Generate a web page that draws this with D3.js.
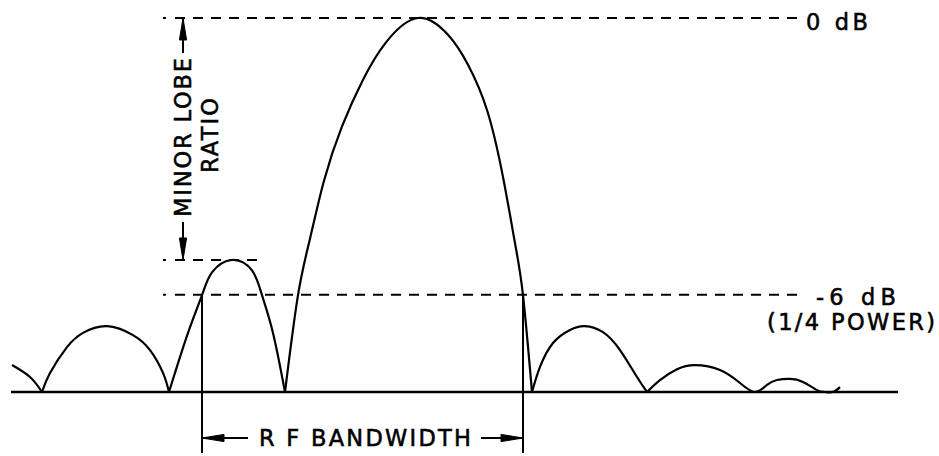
<!DOCTYPE html>
<html>
<head>
<meta charset="utf-8">
<script src="https://cdn.jsdelivr.net/npm/d3@7"></script>
<style>
  html, body { margin: 0; padding: 0; background: #fff; }
  svg { display: block; }
  text { font-family: "DejaVu Sans", sans-serif; font-size: 22.5px; fill: #000; stroke: #000; stroke-width: 0.55px; }
</style>
</head>
<body>
<svg id="chart" width="939" height="456"></svg>
<script>
// ---------- DATA (angle units, relative power) ----------
const angleDomain = [-40.7, 48];          // baseline extent
const powerDomain = [0, 1];

// lobe segments: [angle, relative power]
const tailLeft   = [[-40.6, 0.072], [-38.8, 0.040], [-37.6, 0]];
const sideLobe2L = [[-37.6, 0], [-36.8, 0.051], [-35.1, 0.120], [-33.5, 0.158], [-31.1, 0.176],
                    [-28.5, 0.152], [-26.8, 0.112], [-25.5, 0.051], [-24.9, 0]];
const sideLobe1L = [[-24.9, 0], [-23.0, 0.158], [-21.6, 0.259], [-20.6, 0.320],
                    [-18.6, 0.353], [-16.6, 0.325], [-15.6, 0.259], [-14.5, 0.158], [-13.3, 0]];
const mainLobe   = [[-13.3, 0], [-12.0, 0.259], [-10.8, 0.410], [-9.4, 0.565], [-7.6, 0.710],
                    [-5.5, 0.835], [-3.2, 0.935], [0, 1.0], [3.0, 0.955],
                    [5.0, 0.875], [6.9, 0.754], [8.5, 0.575], [9.7, 0.398], [10.5, 0.259], [11.4, 0]];
const sideLobe1R = [[11.4, 0], [12.2, 0.067], [13.5, 0.131], [15.2, 0.166], [16.7, 0.176],
                    [18.5, 0.160], [20.2, 0.112], [21.9, 0.040], [22.9, 0]];
const farLobesR  = [[22.9, 0], [24.2, 0.032], [25.9, 0.061], [27.7, 0.072], [30.2, 0.059],
                    [32.2, 0.024], [33.7, 0], [34.9, 0.019], [35.9, 0.032], [37.2, 0.035],
                    [38.5, 0.027], [39.9, 0.005], [40.7, 0], [41.5, 0], [42.2, 0.013]];

const levelValues = [1.0, 0.26];                 // 0 dB, -6 dB (1/4 power)
const levelLabels = ["0 dB", "-6 dB"];
const levelSubLabel = "(1/4 POWER)";
const minorLobeLevel = 0.353;
const bandEdges = [-21.6, 10.5];                  // -6 dB crossings
const bandLabel = "R F BANDWIDTH";
const ratioLabel = ["MINOR LOBE", "RATIO"];

// ---------- LAYOUT ----------
const svg = d3.select("#chart");
const x = d3.scaleLinear().domain(angleDomain).range([11, 898]);
const y = d3.scaleLinear().domain(powerDomain).range([392, 18]);

const line = d3.line().x(d => x(d[0])).y(d => y(d[1])).curve(d3.curveNatural);

// baseline
svg.append("line")
  .attr("x1", x(angleDomain[0])).attr("x2", x(angleDomain[1]))
  .attr("y1", y(0)).attr("y2", y(0))
  .attr("stroke", "#000").attr("stroke-width", 2.5);

// lobes
[tailLeft, sideLobe2L, sideLobe1L, mainLobe, sideLobe1R, farLobesR].forEach(seg => {
  svg.append("path").attr("d", line(seg))
    .attr("fill", "none").attr("stroke", "#000").attr("stroke-width", 2.2)
    .attr("stroke-linejoin", "round");
});

// dashed reference lines
function dashed(yv, x2) {
  svg.append("line").attr("x1", 163).attr("x2", 166).attr("y1", y(yv)).attr("y2", y(yv))
    .attr("stroke", "#000").attr("stroke-width", 2);
  svg.append("line").attr("x1", 175).attr("x2", x2).attr("y1", y(yv)).attr("y2", y(yv))
    .attr("stroke", "#000").attr("stroke-width", 2).attr("stroke-dasharray", "10,8");
}
dashed(levelValues[0], 797);
dashed(levelValues[1], 797);
dashed(minorLobeLevel, 265);

// level labels
svg.append("text").attr("x", 806).attr("y", y(levelValues[0]) + 12)
  .attr("textLength", 62).attr("lengthAdjust", "spacing").text(levelLabels[0]);
svg.append("text").attr("x", 816).attr("y", y(levelValues[1]) + 10)
  .attr("textLength", 80).attr("lengthAdjust", "spacing").text(levelLabels[1]);
svg.append("text").attr("x", 767).attr("y", y(levelValues[1]) + 35)
  .attr("textLength", 168).attr("lengthAdjust", "spacing").text(levelSubLabel);

// arrow helper
function arrowHead(tx, ty, dx, dy) {
  const L = 22, W = 3.6;
  const bx = tx - dx * L, by = ty - dy * L;
  const px = -dy * W, py = dx * W;
  svg.append("path")
    .attr("d", `M${tx},${ty}L${bx + px},${by + py}L${bx - px},${by - py}Z`)
    .attr("fill", "#000").attr("stroke", "#000").attr("stroke-width", 1);
}
function seg(x1, y1, x2, y2) {
  svg.append("line").attr("x1", x1).attr("y1", y1).attr("x2", x2).attr("y2", y2)
    .attr("stroke", "#000").attr("stroke-width", 2);
}

// minor lobe ratio dimension
const ax = 183;
seg(ax, y(levelValues[0]), ax, 53);
arrowHead(ax, y(levelValues[0]), 0, -1);
seg(ax, 222, ax, y(minorLobeLevel));
arrowHead(ax, y(minorLobeLevel), 0, 1);
svg.append("text").attr("transform", `translate(191,217) rotate(-90)`)
  .attr("textLength", 159).attr("lengthAdjust", "spacing").text(ratioLabel[0]);
svg.append("text").attr("transform", `translate(218,173) rotate(-90)`)
  .attr("textLength", 75).attr("lengthAdjust", "spacing").text(ratioLabel[1]);

// bandwidth dimension
const bx1 = x(bandEdges[0]), bx2 = x(bandEdges[1]);
seg(bx1, y(levelValues[1]), bx1, 453);
seg(bx2, y(levelValues[1]), bx2, 453);
const by = 438;
seg(bx1, by, 248, by);
arrowHead(bx1, by, -1, 0);
seg(481, by, bx2, by);
arrowHead(bx2, by, 1, 0);
svg.append("text").attr("x", 259).attr("y", 446)
  .attr("textLength", 212).attr("lengthAdjust", "spacing").text(bandLabel);
</script>
</body>
</html>
